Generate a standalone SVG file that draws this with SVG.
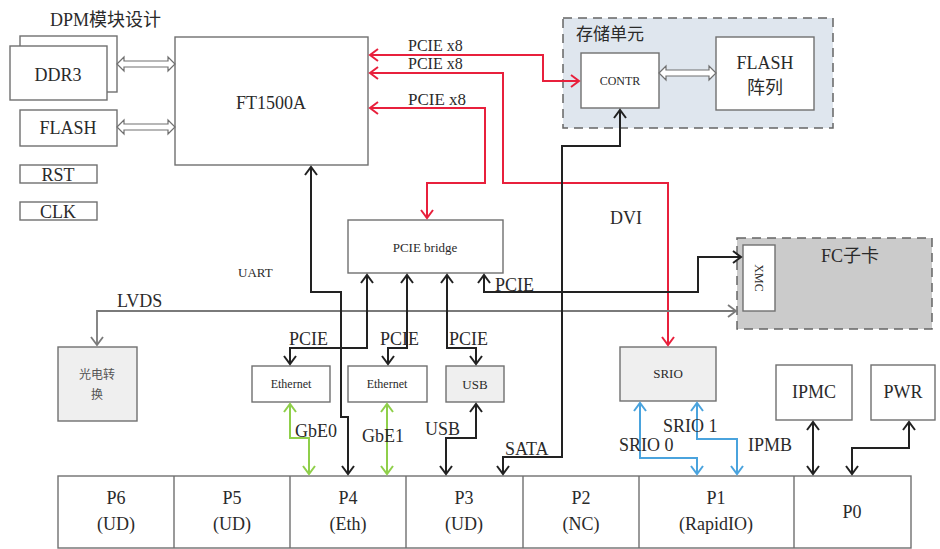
<svg xmlns="http://www.w3.org/2000/svg" width="940" height="549" viewBox="0 0 940 549" font-family="'Liberation Serif', serif">
<style>
text{font-family:'Liberation Serif','Times New Roman',serif;fill:#2a2a2a;}
text.cjk{font-family:'Liberation Serif','Noto Sans CJK SC',serif;}
.box{fill:#fff;stroke:#707070;stroke-width:1.4;}
.gbox{fill:#efefef;stroke:#707070;stroke-width:1.4;}
.blk{fill:none;stroke:#222;stroke-width:2;}
.red{fill:none;stroke:#e8203c;stroke-width:2;}
.grn{fill:none;stroke:#8fcf4a;stroke-width:2;}
.blu{fill:none;stroke:#4aa3dd;stroke-width:2;}
.gry{fill:none;stroke:#7a7a7a;stroke-width:1.8;}
.dbl{fill:#fff;stroke:#707070;stroke-width:1.2;}
.l17{font-size:18px;}
.px{font-size:17px;}
.m{text-anchor:middle;}
</style>
<defs>
<marker id="ab" viewBox="-10 -7 12 14" refX="0" refY="0" markerWidth="12" markerHeight="14" markerUnits="userSpaceOnUse" orient="auto-start-reverse"><path d="M-8,-6 L0,0 L-8,6" fill="none" stroke="#222" stroke-width="2"/></marker>
<marker id="ar" viewBox="-10 -7 12 14" refX="0" refY="0" markerWidth="12" markerHeight="14" markerUnits="userSpaceOnUse" orient="auto-start-reverse"><path d="M-8,-6 L0,0 L-8,6" fill="none" stroke="#e8203c" stroke-width="2"/></marker>
<marker id="ag" viewBox="-10 -7 12 14" refX="0" refY="0" markerWidth="12" markerHeight="14" markerUnits="userSpaceOnUse" orient="auto-start-reverse"><path d="M-8,-6 L0,0 L-8,6" fill="none" stroke="#8fcf4a" stroke-width="2"/></marker>
<marker id="au" viewBox="-10 -7 12 14" refX="0" refY="0" markerWidth="12" markerHeight="14" markerUnits="userSpaceOnUse" orient="auto-start-reverse"><path d="M-8,-6 L0,0 L-8,6" fill="none" stroke="#4aa3dd" stroke-width="2"/></marker>
<marker id="ay" viewBox="-10 -7 12 14" refX="0" refY="0" markerWidth="12" markerHeight="14" markerUnits="userSpaceOnUse" orient="auto-start-reverse"><path d="M-8,-6 L0,0 L-8,6" fill="none" stroke="#7a7a7a" stroke-width="1.8"/></marker>
</defs>

<rect width="940" height="549" fill="#fff"/>
<text x="50" y="26" font-size="18" class="cjk">DPM模块设计</text>

<g id="storage">
<rect x="563" y="18" width="270" height="110" fill="#dfe6ee" stroke="#666" stroke-width="1.5" stroke-dasharray="9,6"/>
<text x="576" y="40" font-size="17" class="cjk">存储单元</text>
</g>
<g id="fc">
<rect x="737" y="238" width="195" height="91" fill="#cbcbcb" stroke="#666" stroke-width="1.5" stroke-dasharray="9,6"/>
<text x="850" y="262" class="l17 m cjk">FC子卡</text>
</g>

<g id="ddr3">
<rect class="box" x="20" y="36" width="97" height="56"/>
<rect class="box" x="10" y="46" width="97" height="54"/>
<text x="58" y="81" class="l17 m">DDR3</text>
</g>
<g id="flash">
<rect class="box" x="20" y="110" width="97" height="36"/>
<text x="68" y="134" class="l17 m">FLASH</text>
</g>
<g id="rst"><rect class="box" x="20" y="165" width="77" height="18"/><text x="58" y="181" class="l17 m">RST</text></g>
<g id="clk"><rect class="box" x="20" y="202" width="77" height="18"/><text x="58" y="218" class="l17 m">CLK</text></g>
<g id="ft1500a">
<rect class="box" x="175" y="37" width="193" height="128"/>
<text x="271" y="109" class="l17 m">FT1500A</text>
</g>
<g id="contr">
<rect class="box" x="581" y="53" width="78" height="55"/>
<text x="620" y="85" font-size="12" class="m">CONTR</text>
</g>
<g id="flasharr">
<rect class="box" x="716" y="37" width="98" height="73"/>
<text x="765" y="69" class="l17 m">FLASH</text>
<text x="765" y="94" class="l17 m cjk">阵列</text>
</g>
<g id="bridge">
<rect class="box" x="348" y="220" width="155" height="53"/>
<text x="425" y="252" font-size="13" class="m">PCIE bridge</text>
</g>
<g id="xmc">
<rect class="box" x="743" y="245" width="32" height="66"/>
<text x="0" y="0" font-size="12" class="m" transform="translate(755,278) rotate(90)">XMC</text>
</g>
<g id="oe">
<rect class="gbox" x="58" y="347" width="79" height="74"/>
<text x="97" y="379" font-size="12" class="m cjk" style="fill:#555">光电转</text>
<text x="97" y="399" font-size="12" class="m cjk" style="fill:#555">换</text>
</g>
<g id="eth0"><rect class="box" x="252" y="366" width="78" height="36"/><text x="291" y="388" font-size="12" class="m">Ethernet</text></g>
<g id="eth1"><rect class="box" x="348" y="366" width="79" height="36"/><text x="387" y="388" font-size="12" class="m">Ethernet</text></g>
<g id="usb"><rect class="gbox" x="446" y="366" width="58" height="36"/><text x="475" y="389" font-size="13" class="m">USB</text></g>
<g id="srio"><rect class="gbox" x="620" y="347" width="96" height="54"/><text x="668" y="378" font-size="13" class="m">SRIO</text></g>
<g id="ipmc"><rect class="box" x="776" y="365" width="76" height="55"/><text x="814" y="398" class="l17 m">IPMC</text></g>
<g id="pwr"><rect class="box" x="871" y="365" width="64" height="55"/><text x="903" y="398" class="l17 m">PWR</text></g>

<g id="slots">
<rect class="box" x="58" y="476" width="853" height="72"/>
<path d="M174,476V548M290,476V548M406,476V548M523,476V548M639,476V548M794,476V548" stroke="#707070" stroke-width="1.4"/>
<text x="116" y="504" class="l17 m">P6</text><text x="116" y="530" class="l17 m">(UD)</text>
<text x="232" y="504" class="l17 m">P5</text><text x="232" y="530" class="l17 m">(UD)</text>
<text x="348" y="504" class="l17 m">P4</text><text x="348" y="530" class="l17 m">(Eth)</text>
<text x="464" y="504" class="l17 m">P3</text><text x="464" y="530" class="l17 m">(UD)</text>
<text x="581" y="504" class="l17 m">P2</text><text x="581" y="530" class="l17 m">(NC)</text>
<text x="716" y="504" class="l17 m">P1</text><text x="716" y="530" class="l17 m">(RapidIO)</text>
<text x="852" y="518" class="l17 m">P0</text>
</g>

<g id="connectors">
<polygon class="dbl" points="117,64 124,57 124,61 168,61 168,57 175,64 168,71 168,67 124,67 124,71"/>
<polygon class="dbl" points="117,127 124,120 124,124 168,124 168,120 175,127 168,134 168,130 124,130 124,134"/>
<polygon class="dbl" points="659,73 666,66 666,70 709,70 709,66 716,73 709,80 709,76 666,76 666,80"/>

<path class="red" d="M370,55 H543 V81 H579" marker-start="url(#ar)" marker-end="url(#ar)"/>
<path class="red" d="M370,73 H503 V183 H668 V345" marker-start="url(#ar)" marker-end="url(#ar)"/>
<path class="red" d="M370,108 H485 V183 H427 V218" marker-start="url(#ar)" marker-end="url(#ar)"/>

<path class="gry" d="M736,311 H97 V345" marker-start="url(#ay)" marker-end="url(#ay)"/>

<path class="blk" d="M311,167 V292 H341 V417 H348 V474" marker-start="url(#ab)" marker-end="url(#ab)"/>
<path class="blk" d="M620,110 V146 H562 V457 H503 V474" marker-start="url(#ab)" marker-end="url(#ab)"/>
<path class="blk" d="M367,275 V348 H290 V364" marker-start="url(#ab)" marker-end="url(#ab)"/>
<path class="blk" d="M407,275 V348 H388 V364" marker-start="url(#ab)" marker-end="url(#ab)"/>
<path class="blk" d="M447,275 V348 H476 V364" marker-start="url(#ab)" marker-end="url(#ab)"/>
<path class="blk" d="M484,275 V292 H698 V257 H741" marker-start="url(#ab)" marker-end="url(#ab)"/>
<path class="blk" d="M476,404 V438 H446 V474" marker-start="url(#ab)" marker-end="url(#ab)"/>
<path class="blk" d="M813,422 V474" marker-start="url(#ab)" marker-end="url(#ab)"/>
<path class="blk" d="M909,422 V448 H852 V474" marker-start="url(#ab)" marker-end="url(#ab)"/>

<path class="grn" d="M290,404 V438 H309 V474" marker-start="url(#ag)" marker-end="url(#ag)"/>
<path class="grn" d="M387,404 V474" marker-start="url(#ag)" marker-end="url(#ag)"/>

<path class="blu" d="M640,403 V458 H697 V474" marker-start="url(#au)" marker-end="url(#au)"/>
<path class="blu" d="M697,403 V439 H737 V474" marker-start="url(#au)" marker-end="url(#au)"/>
</g>

<g id="labels">
<text x="408" y="51" font-size="16">PCIE x8</text>
<text x="408" y="69" font-size="16">PCIE x8</text>
<text x="408" y="105" class="px">PCIE x8</text>
<text x="610" y="224" class="l17">DVI</text>
<text x="238" y="277" font-size="13">UART</text>
<text x="495" y="291" class="l17">PCIE</text>
<text x="117" y="307" class="l17">LVDS</text>
<text x="289" y="345" class="l17">PCIE</text>
<text x="380" y="345" class="l17">PCIE</text>
<text x="449" y="345" class="l17">PCIE</text>
<text x="295" y="437" class="l17">GbE0</text>
<text x="362" y="442" class="l17">GbE1</text>
<text x="425" y="435" class="l17">USB</text>
<text x="505" y="455" class="l17">SATA</text>
<text x="663" y="432" class="l17">SRIO 1</text>
<text x="619" y="451" class="l17">SRIO 0</text>
<text x="748" y="451" class="l17">IPMB</text>
</g>
</svg>
